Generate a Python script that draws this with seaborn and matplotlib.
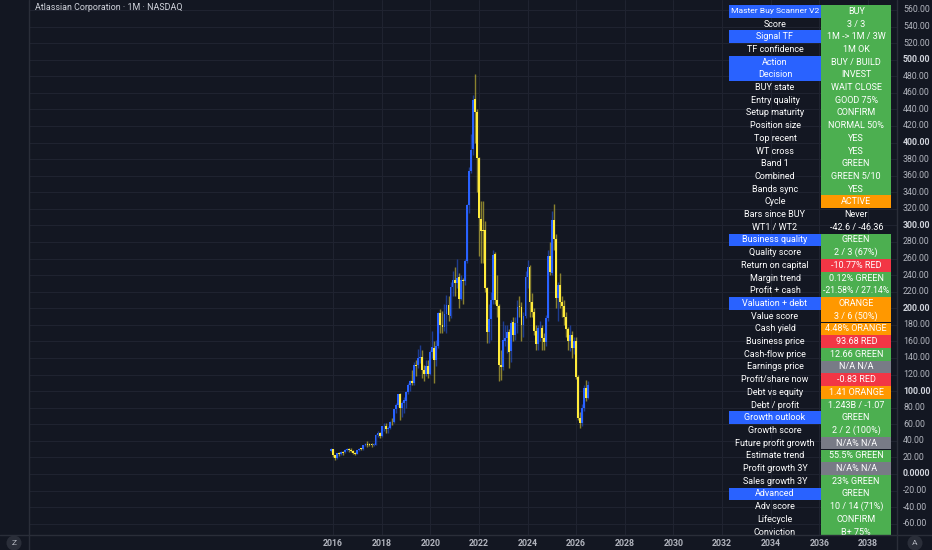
import numpy as np
import pandas as pd
import matplotlib
matplotlib.use("Agg")
import matplotlib.pyplot as plt
from matplotlib.patches import Rectangle, Ellipse
import seaborn as sns

# ---------------- data ----------------
start_month = "2015-12"
opens = [27.5,
 30.0,22.5,19.0,25.0,24.5,26.5,26.0,29.5,30.0,29.4,28.0,25.5,
 24.2,28.5,30.5,30.0,34.5,36.0,35.2,35.0,35.0,35.2,47.0,49.6,
 45.7,57.6,58.5,54.0,56.0,63.0,62.5,78.5,83.5,96.0,79.5,86.0,
 88,99,108,112.5,110,132,131,140,141,125,121,130,
 120.5,147,152,137,155,194,180,177,193,204,191,226,
 234,231,238,211,234,233,257,325,366,392,452,437,
 381,308,294,294,224,171,187,210,265,210,203,132,
 129,161,164,171,148,183,168,182,202,201,180,191,
 238,250,207,195,172,157,176,176,164,159,188,263,
 243,306,284,212,228,208,203,190,175,160,168,152,
 160,117,68,62,80,104,92]
highs = [31.0,
 30.5,23.0,25.5,26.0,28.0,27.5,30.5,31.0,31.5,31.0,28.5,26.0,
 29.0,31.5,31.5,35.0,37.5,39.5,37.0,37.5,38.0,48.0,52.0,51.0,
 58.5,62.0,62.0,58.0,64.0,68.0,79.0,86.0,97.0,97.5,88.0,93.0,
 100,110,114,125,135,137,151,156,150,132,138,137,
 150,172,160,162,196,199,197,205,216,215,232,245,
 250,260,242,240,236,260,326,370,410,458,483,440,
 382,330,330,305,226,205,220,270,268,240,205,150,
 185,180,180,175,186,190,190,210,215,208,195,245,
 258,252,218,200,180,180,185,180,170,192,270,280,
 318,326,290,232,242,215,210,195,178,180,172,165,
 165,120,75,85,108,114,112]
lows = [26.5,
 20.5,16.5,18.5,22.0,22.5,22.8,25.5,27.5,27.0,26.5,24.5,22.5,
 24.0,27.8,28.5,29.5,33.5,33.0,33.5,33.0,34.0,35.0,45.0,43.5,
 45.0,52.0,50.0,49.5,54.0,59.5,61.0,74.0,81.0,65.0,69.0,74.0,
 80,96,100,107,108,118,128,134,116,112,118,116,
 119,140,110,130,152,170,170,172,170,185,188,215,
 215,225,200,210,205,228,255,315,363,385,400,340,
 263,255,255,220,158,158,162,205,205,190,112,113,
 125,155,146,128,135,160,162,170,190,160,165,188,
 225,190,190,168,150,150,160,150,150,155,185,240,
 240,270,200,185,200,190,180,165,150,148,140,145,
 115,65,55,58,76,88,90]
closes = [30.1,
 22.6,18.9,25.1,24.5,26.5,25.9,29.5,29.9,29.4,28.0,25.5,24.1,
 28.5,30.5,30.0,34.5,36.0,35.2,35.1,34.9,35.2,47.1,49.6,45.5,
 57.6,58.2,53.9,55.9,62.9,62.5,78.3,83.2,96.1,79.5,85.8,89.0,
 98.6,107.8,112.4,110.2,132,130.8,140.1,141,125.4,120.9,130.5,120.3,
 146.7,153.7,137.3,154.3,194.2,180.3,177.3,192.7,204.4,191.6,226,233.9,
 231,237,210.8,233.6,232.6,256.9,325,365.8,391.4,451.6,436.6,381.3,
 308.6,293.7,293.8,224.4,170.9,187.4,209.5,264.8,210.6,202.9,131.5,128.7,
 161.6,164.1,171.2,147.8,182.8,167.8,181.8,201.8,201.5,180.4,190.9,237.9,
 249.8,207.3,195.1,172.4,157.1,175.9,176.4,164.4,158.8,187.9,263.6,243.4,
 306,284,212,228,208,203,190,175,160,168,152,160,
 117,68,62,80,104,92,108]

table_labels = ["Master Buy Scanner V2", "Score", "Signal TF", "TF confidence", "Action",
    "Decision", "BUY state", "Entry quality", "Setup maturity", "Position size",
    "Top recent", "WT cross", "Band 1", "Combined", "Bands sync", "Cycle",
    "Bars since BUY", "WT1 / WT2", "Business quality", "Quality score",
    "Return on capital", "Margin trend", "Profit + cash", "Valuation + debt",
    "Value score", "Cash yield", "Business price", "Cash-flow price",
    "Earnings price", "Profit/share now", "Debt vs equity", "Debt / profit",
    "Growth outlook", "Growth score", "Future profit growth", "Estimate trend",
    "Profit growth 3Y", "Sales growth 3Y", "Advanced", "Adv score", "Lifecycle",
    "Conviction"]
table_values = ["BUY", "3 / 3", "1M -> 1M / 3W", "1M OK", "BUY / BUILD", "INVEST",
    "WAIT CLOSE", "GOOD 75%", "CONFIRM", "NORMAL 50%", "YES", "YES", "GREEN",
    "GREEN 5/10", "YES", "ACTIVE", "Never", "-42.6 / -46.36", "GREEN",
    "2 / 3 (67%)", "-10.77% RED", "0.12% GREEN", "-21.58% / 27.14%", "ORANGE",
    "3 / 6 (50%)", "4.48% ORANGE", "93.68 RED", "12.66 GREEN", "N/A N/A",
    "-0.83 RED", "1.41 ORANGE", "1.243B / -1.07", "GREEN", "2 / 2 (100%)",
    "N/A% N/A", "55.5% GREEN", "N/A% N/A", "23% GREEN", "GREEN", "10 / 14 (71%)",
    "CONFIRM", "B+ 75%"]
label_style = ["H", "", "H", "", "H", "H", "", "", "", "", "", "", "", "", "", "",
    "", "", "H", "", "", "", "", "H", "", "", "", "", "", "", "", "", "H", "",
    "", "", "", "", "H", "", "", ""]
value_style = ["g", "g", "g", "g", "g", "g", "g", "g", "g", "g", "g", "g", "g", "g",
    "g", "o", "", "", "g", "g", "r", "g", "g", "o", "o", "o", "r", "g", "n", "r",
    "o", "g", "g", "g", "n", "g", "n", "g", "g", "g", "g", "g"]

price_ticks = list(range(560, -61, -20))
year_ticks = list(range(2016, 2039, 2))

# ---------------- style ----------------
BG = "#131722"
GRID = "#1f2330"
TXT = "#b2b5be"
UP = "#2962ff"
DN = "#ffeb3b"
fill = {"g": "#4caf50", "o": "#ff9800", "r": "#f23645", "n": "#787b86", "H": "#2962ff"}

sns.set_theme(style="dark", rc={"axes.facecolor": BG, "figure.facecolor": BG})
plt.rcParams["font.family"] = ["Roboto", "DejaVu Sans"]

W, H = 932, 550
fig = plt.figure(figsize=(W / 100, H / 100), dpi=100)
fig.patch.set_facecolor(BG)

L, R, B, T = 29, 897, 535, 0
ax = fig.add_axes([L / W, (H - B) / H, (R - L) / W, (B - T) / H])
ax.set_facecolor(BG)

df = pd.DataFrame({"open": opens, "high": highs, "low": lows, "close": closes})
dates = pd.date_range(start=start_month, periods=len(df), freq="MS")
df["x"] = dates.year + (dates.month - 1) / 12.0
df["up"] = df["close"] >= df["open"]

# y scale: 560 at px 10, 0 at px 474
ppu = (474 - 10) / 560.0
ymax = 474 / ppu
ymin = -(B - 474) / ppu
ppy = (868 - 333) / 22.0
xmin = 2016 + (L - 333) / ppy
xmax = 2016 + (R - 333) / ppy
ax.set_xlim(xmin, xmax)
ax.set_ylim(ymin, ymax)

for v in price_ticks:
    ax.axhline(v, color=GRID, lw=0.8, zorder=0)
for yr in year_ticks:
    ax.axvline(yr, color=GRID, lw=0.8, zorder=0)

cols = np.where(df["up"], UP, DN)
ax.vlines(df["x"], df["low"], df["high"], colors=cols, lw=1.0, alpha=0.5, zorder=2)
body_lo = np.minimum(df["open"], df["close"])
body_h = np.maximum(np.abs(df["close"] - df["open"]), 0.8)
ax.bar(df["x"], body_h, bottom=body_lo, width=0.075, color=cols, linewidth=0, zorder=3)

ax.set_xticks([])
ax.set_yticks([])
for s in ax.spines.values():
    s.set_visible(False)

# borders
fig.add_artist(plt.Line2D([L / W, L / W], [0, 1], color="#2a2e39", lw=1))
fig.add_artist(plt.Line2D([R / W, R / W], [0, 1], color="#2a2e39", lw=1))
fig.add_artist(plt.Line2D([0, 1], [(H - B) / H] * 2, color="#2a2e39", lw=1))

def fx(px):
    return px / W

def fy(py):
    return 1 - py / H

# title
fig.text(fx(35), fy(8), "Atlassian Corporation \u00b7 1M \u00b7 NASDAQ", color="#d1d4dc",
         fontsize=6.4, ha="left", va="center")

# price axis labels
for v in price_ticks:
    lab = "0.0000" if v == 0 else f"{v:.2f}"
    py = 474 - v * ppu
    strong = (v % 100 == 0)
    fig.text(fx(903), fy(py), lab, color="#d1d4dc" if strong else TXT, fontsize=6.3,
             ha="left", va="center", fontweight="bold" if strong else "normal")

# year labels
for yr in year_ticks:
    px = 333 + (yr - 2016) * ppy
    fig.text(fx(px), fy(543), str(yr), color=TXT, fontsize=6.3, ha="center", va="center",
             fontweight="bold")

# corner buttons
for cx, letter in [(14, "Z"), (915, "A")]:
    fig.add_artist(Ellipse((fx(cx), fy(543)), width=15 / W, height=15 / H,
                           transform=fig.transFigure, facecolor="#2a2e39", edgecolor="none"))
    fig.text(fx(cx), fy(543), letter, color=TXT, fontsize=6, ha="center", va="center")

# table (drawn inside the chart pane, clipped at the pane bottom)
def ax_x(px):
    return (px - L) / (R - L)

def ax_y(py):
    return 1 - (py - T) / (B - T)

top, rh = 5.0, 12.7
lx0, lx1, vx1 = 729, 821, 891.5

def cell_text(xc, yc, s, size):
    ax.text(ax_x(xc), ax_y(yc), s, transform=ax.transAxes, color="white",
            fontsize=size, ha="center", va="center", zorder=6, clip_on=True)

for i, (lab, val, ls, vs) in enumerate(zip(table_labels, table_values, label_style, value_style)):
    y0 = top + i * rh
    yc = y0 + rh / 2
    if ls:
        ax.add_patch(Rectangle((ax_x(lx0), ax_y(y0 + rh)), ax_x(lx1) - ax_x(lx0),
                               ax_y(y0) - ax_y(y0 + rh), transform=ax.transAxes,
                               facecolor=fill[ls], edgecolor="none", zorder=5, clip_on=True))
    if vs:
        ax.add_patch(Rectangle((ax_x(lx1), ax_y(y0 + rh)), ax_x(vx1) - ax_x(lx1),
                               ax_y(y0) - ax_y(y0 + rh), transform=ax.transAxes,
                               facecolor=fill[vs], edgecolor="none", zorder=5, clip_on=True))
    cell_text((lx0 + lx1) / 2, yc, lab, 6.1 if len(lab) > 20 else 6.5)
    cell_text((lx1 + vx1) / 2, yc, val, 6.2 if len(val) > 15 else 6.5)

fig.savefig("out.png", dpi=100, facecolor=BG)
